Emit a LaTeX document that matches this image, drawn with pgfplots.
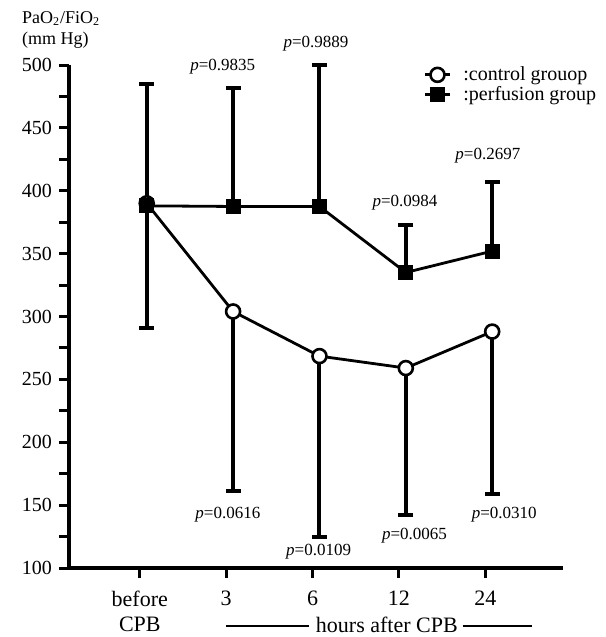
\documentclass[border=0pt]{standalone}
\usepackage{pgfplots}
\pgfplotsset{compat=1.18}
\usepackage{fontspec}
\setmainfont{Liberation Serif}
\pgfplotsset{ebar/.style={forget plot, black, line width=2pt, mark=-, mark size=3.75pt, mark indices={2}, mark options={line width=2pt}}}
\begin{document}
\begin{tikzpicture}
\begin{axis}[
  at={(0,0)}, anchor=south west,
  scale only axis, width=247pt, height=251.5pt,
  xmin=-0.82, xmax=4.90, ymin=100, ymax=500,
  axis x line*=bottom, axis y line*=left,
  axis line style={line width=1.6pt,-},
  xtick={0,1,2,3,4}, xticklabels={{before\\CPB},3,6,12,24},
  ytick={100,150,...,500}, minor ytick={125,175,...,475},
  tick align=outside, major tick length=5pt, minor tick length=5pt,
  tick style={line width=1.5pt, black},
  /pgf/number format/assume math mode=true,
  y tick label style={font=\rmfamily\fontsize{10}{12}\selectfont},
  x tick label style={font=\rmfamily\fontsize{11}{12.5}\selectfont, align=center, yshift=-3pt},
  clip=false,
  legend cell align=left,
  legend style={at={([yshift=2pt]rel axis cs:0.717,0.998)}, anchor=north west, draw=none, fill=none, inner sep=0pt, font=\rmfamily\fontsize{10}{12}\selectfont, row sep=-2.5pt,
    /tikz/every odd column/.append style={column sep=4pt}},
  legend image code/.code={\draw[mark repeat=2,mark phase=2,#1] plot coordinates {(0pt,0pt) (6.25pt,0pt) (12.5pt,0pt)};},
]
% error bars: control (downward)
\addplot[ebar] coordinates {(0.08,390) (0.08,291)};
\addplot[ebar] coordinates {(1.08,304) (1.08,161)};
\addplot[ebar] coordinates {(2.08,268.5) (2.08,125)};
\addplot[ebar] coordinates {(3.08,259) (3.08,142)};
\addplot[ebar] coordinates {(4.08,288) (4.08,159)};
% error bars: perfusion (upward)
\addplot[ebar] coordinates {(0.08,388) (0.08,485)};
\addplot[ebar] coordinates {(1.08,387.5) (1.08,482)};
\addplot[ebar] coordinates {(2.08,387.5) (2.08,500)};
\addplot[ebar] coordinates {(3.08,335) (3.08,373)};
\addplot[ebar] coordinates {(4.08,352) (4.08,407)};
\addplot[black, line width=1.4pt, mark=*, mark size=3.5pt, mark options={fill=white, line width=1.3pt}]
  coordinates {(0.08,390) (1.08,304) (2.08,268.5) (3.08,259) (4.08,288)};
\addlegendentry{:control grouop}
\addplot[black, line width=1.4pt, mark=square*, mark size=3.5pt, mark options={fill=black, line width=0.5pt}]
  coordinates {(0.08,388) (1.08,387.5) (2.08,387.5) (3.08,335) (4.08,352)};
\addlegendentry{:perfusion group}
\begin{scope}[font=\rmfamily\fontsize{8.5}{10}\selectfont]
\node at (axis cs:0.96,498.7) {\textit{p}=0.9835};
\node at (axis cs:2.04,516.7) {\textit{p}=0.9889};
\node at (axis cs:3.07,390.5) {\textit{p}=0.0984};
\node at (axis cs:4.03,427.6) {\textit{p}=0.2697};
\node at (axis cs:1.02,142.7) {\textit{p}=0.0616};
\node at (axis cs:2.07,113) {\textit{p}=0.0109};
\node at (axis cs:3.18,125.4) {\textit{p}=0.0065};
\node at (axis cs:4.22,142.2) {\textit{p}=0.0310};
\end{scope}
\node[anchor=base, font=\rmfamily\fontsize{11}{12.5}\selectfont] at ([yshift=-32pt]axis cs:2.86,100) {hours after CPB};
\draw[line width=1pt] ([yshift=-29pt]axis cs:1.0,100) -- ([yshift=-29pt]axis cs:1.96,100);
\draw[line width=1pt] ([yshift=-29pt]axis cs:3.74,100) -- ([yshift=-29pt]axis cs:4.54,100);
\node[anchor=base west, font=\rmfamily\fontsize{9}{11}\selectfont] at ([xshift=-27pt,yshift=21pt]rel axis cs:0,1) {PaO\textsubscript{2}/FiO\textsubscript{2}};
\node[anchor=base west, font=\rmfamily\fontsize{9}{11}\selectfont] at ([xshift=-27pt,yshift=10.5pt]rel axis cs:0,1) {(mm Hg)};
\end{axis}
\pgfresetboundingbox
\path[use as bounding box] (-34.5pt,-34.5pt) rectangle (268pt,284pt);
\end{tikzpicture}
\end{document}
